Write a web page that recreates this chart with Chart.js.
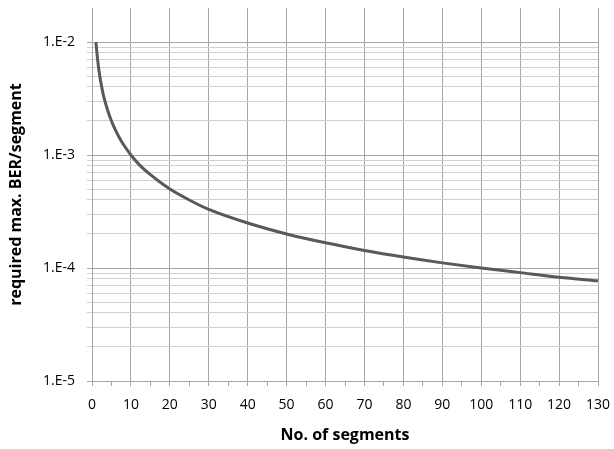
<!DOCTYPE html>
<html>
<head>
<meta charset="utf-8">
<script src="https://cdn.jsdelivr.net/npm/chart.js@4"></script>
<style>
    html, body { margin: 0; padding: 0; background: #ffffff; }
    #wrap { width: 614px; height: 449px; }
</style>
</head>
<body>
<div id="wrap"><canvas id="ber_chart"></canvas></div>
<script>
// Values
var segments = [1, 1.5, 2, 2.5, 3, 4, 5, 6, 7, 8, 10, 12, 15, 20, 25, 30, 40, 50, 60, 70, 80, 90, 100, 110, 120, 130];
var ber_per_segment = [
    1.0e-2, 6.7e-3, 5.0e-3, 4.0e-3, 3.3e-3, 2.5e-3, 2.0e-3, 1.67e-3, 1.43e-3, 1.25e-3,
    1.0e-3, 8.3e-4, 6.7e-4, 5.0e-4, 4.0e-4, 3.3e-4, 2.5e-4, 2.0e-4, 1.67e-4, 1.43e-4,
    1.25e-4, 1.11e-4, 1.0e-4, 9.1e-5, 8.3e-5, 7.7e-5
];
var y_decades = [1e-5, 1e-4, 1e-3, 1e-2];
var y_tick_labels = ["1.E-5", "1.E-4", "1.E-3", "1.E-2"];
var x_tick_labels = ["0", "10", "20", "30", "40", "50", "60", "70", "80", "90", "100", "110", "120", "130"];

var font_family = "'Open Sans', 'Noto Sans', sans-serif";
var major_color = "#a6a6a6";
var minor_color = "#d0d0d0";

function decade_index (value) {
    for (var i = 0; i < y_decades.length; i++) {
        if (Math.abs(value / y_decades[i] - 1) < 1e-6) {
            return i;
        }
    }

    return -1;
}

var points = [];

for (var i = 0; i < segments.length; i++) {
    points.push({"x": segments[i], "y": ber_per_segment[i]});
}

new Chart(document.getElementById("ber_chart").getContext("2d"), {
    "type": "line",
    "data": {
        "datasets": [{
            "data": points,
            "borderColor": "#595959",
            "borderWidth": 3,
            "pointRadius": 0,
            "cubicInterpolationMode": "monotone",
            "fill": false
        }]
    },
    "options": {
        "responsive": true,
        "maintainAspectRatio": false,
        "animation": false,
        "layout": {
            "padding": {"top": 8, "right": 16, "left": 0, "bottom": 0}
        },
        "scales": {
            "x": {
                "type": "linear",
                "min": 0,
                "max": 130,
                "afterFit": function (scale) {
                    scale.height = 68;
                    // Labels may overhang the plot edges, like the original
                    scale.paddingLeft = 0;
                    scale.paddingRight = 0;
                },
                "afterBuildTicks": function (scale) {
                    var ticks = [];

                    for (var v = 0; v <= 130; v += 5) {
                        ticks.push({"value": v});
                    }

                    scale.ticks = ticks;
                },
                "border": {"color": major_color, "width": 1},
                "grid": {
                    "color": function (ctx) {
                        if (ctx.tick && ctx.tick.value % 10 !== 0) {
                            return "rgba(0,0,0,0)";
                        }

                        return major_color;
                    },
                    "tickColor": major_color,
                    "tickLength": 5
                },
                "ticks": {
                    "autoSkip": false,
                    "maxRotation": 0,
                    "padding": 11,
                    "color": "#000000",
                    "font": {"family": font_family, "size": 14},
                    "callback": function (value) {
                        if (value % 10 !== 0) {
                            return "";
                        }

                        return x_tick_labels[value / 10];
                    }
                },
                "title": {
                    "display": true,
                    "text": "No. of segments",
                    "color": "#000000",
                    "padding": {"top": 1},
                    "font": {"family": font_family, "size": 16, "weight": "bold"}
                }
            },
            "y": {
                "type": "logarithmic",
                "min": 1e-5,
                "max": 2e-2,
                "afterFit": function (scale) {
                    scale.width = 92;
                    // Top tick is not at the top edge, so no room is needed for it
                    scale.paddingTop = 0;
                    scale.paddingBottom = 0;
                },
                "afterBuildTicks": function (scale) {
                    var ticks = [];

                    for (var d = 0; d < y_decades.length; d++) {
                        for (var m = 1; m <= 9; m++) {
                            var v = y_decades[d] * m;

                            if (v > 1.0001e-2) {
                                break;
                            }

                            ticks.push({"value": v});
                        }
                    }

                    scale.ticks = ticks;
                },
                "border": {"color": major_color, "width": 1},
                "grid": {
                    "color": function (ctx) {
                        if (!ctx.tick) {
                            return minor_color;
                        }

                        return decade_index(ctx.tick.value) >= 0 ? major_color : minor_color;
                    },
                    "tickLength": 5
                },
                "ticks": {
                    "autoSkip": false,
                    "padding": 12,
                    "color": "#000000",
                    "font": {"family": font_family, "size": 14},
                    "callback": function (value) {
                        var idx = decade_index(value);

                        return idx >= 0 ? y_tick_labels[idx] : "";
                    }
                },
                "title": {
                    "display": true,
                    "text": "required max. BER/segment",
                    "color": "#000000",
                    "padding": {"top": 7, "bottom": 4},
                    "font": {"family": font_family, "size": 16, "weight": "bold"}
                }
            }
        },
        "plugins": {
            "legend": {"display": false},
            "tooltip": {"enabled": false},
            "title": {"display": false}
        }
    }
});
</script>
</body>
</html>
